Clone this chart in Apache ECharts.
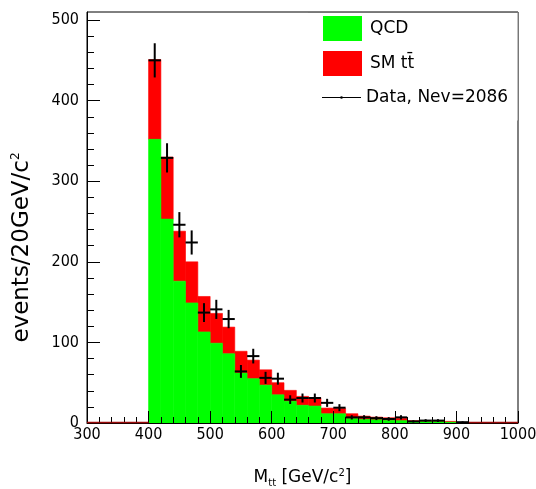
<!DOCTYPE html>
<html>
<head>
<meta charset="utf-8">
<script src="https://cdn.jsdelivr.net/npm/echarts@6/dist/echarts.min.js"></script>
<style>
  html, body { margin: 0; padding: 0; background: #fff; }
  #chart { width: 536px; height: 489px; }
</style>
</head>
<body>
<div id="chart"></div>
<script>
// 20 GeV bins, low edge of each bin
const binLow = [400, 420, 440, 460, 480, 500, 520, 540, 560, 580, 600, 620, 640,
  660, 680, 700, 720, 740, 760, 780, 800, 820, 840, 860, 880, 900]
const binWidth = 20
// QCD background (green)
const qcd = [352, 253, 176, 149, 113, 99, 86, 62, 55, 47, 35, 27, 22,
  21, 11.5, 11.5, 5.5, 4.5, 4, 3.2, 2.9, 1.2, 1.6, 1.5, 1, 0]
// SM ttbar, stacked on top of QCD (red)
const ttbar = [99, 77, 62, 51, 44, 37, 33, 27, 23, 19, 15, 13.5, 11,
  10.5, 7, 6.5, 6, 4, 3.3, 3.3, 2.9, 1.7, 0.9, 1.4, 1, 0.5]
// data counts
const dataCounts = [450, 329, 246, 224, 137, 141, 129, 64, 83, 56, 55, 29, 31,
  31, 25, 19, 7, 7, 6, 5, 7, 2, 3, 3, 0, 1]

const xTicks = [300, 400, 500, 600, 700, 800, 900, 1000]
const yTicks = [0, 100, 200, 300, 400, 500]
const yMinorTicks = [20, 40, 60, 80, 120, 140, 160, 180, 220, 240, 260, 280,
  320, 340, 360, 380, 420, 440, 460, 480]

const tickFont = "'Liberation Sans Narrow', 'DejaVu Sans Condensed', 'DejaVu Sans', sans-serif"
const textFont = "'DejaVu Sans', sans-serif"

const chart = echarts.init(document.getElementById('chart'))

// rows for the custom series: [low, high, bottom, top]
const qcdRows = binLow.map((x, i) => [x, x + binWidth, 0, qcd[i]])
const ttRows = binLow.map((x, i) => [x, x + binWidth, qcd[i], qcd[i] + ttbar[i]])
const dataRows = binLow.map((x, i) => [x, x + binWidth, dataCounts[i]])

// empty bins over the whole axis range: histogram outline sits on zero there
const emptyRows = []
for (let x = xTicks[0]; x < xTicks[xTicks.length - 1]; x += binWidth) {
  const i = binLow.indexOf(x)
  if (i < 0 || qcd[i] + ttbar[i] === 0) emptyRows.push([x, x + binWidth])
}

const barItem = (params, api) => {
  const p0 = api.coord([api.value(0), api.value(2)])
  const p1 = api.coord([api.value(1), api.value(3)])
  const color = api.visual('color')
  return {
    type: 'rect',
    shape: { x: p0[0], y: p1[1], width: p1[0] - p0[0], height: p0[1] - p1[1] },
    style: { fill: color, stroke: color, lineWidth: 0.6 }
  }
}

const crossItem = (params, api) => {
  const n = api.value(2)
  if (n <= 0) return null
  const err = Math.sqrt(n)
  const xc = (api.value(0) + api.value(1)) / 2
  const a = api.coord([api.value(0), n])
  const b = api.coord([api.value(1), n])
  const top = api.coord([xc, n + err])
  const bot = api.coord([xc, Math.max(n - err, 0)])
  const st = { stroke: '#000', lineWidth: 2 }
  return {
    type: 'group',
    children: [
      { type: 'line', shape: { x1: a[0], y1: a[1], x2: b[0], y2: b[1] }, style: st },
      { type: 'line', shape: { x1: top[0], y1: top[1], x2: bot[0], y2: bot[1] }, style: st }
    ]
  }
}

const zeroItem = (params, api) => {
  const a = api.coord([api.value(0), 0])
  const b = api.coord([api.value(1), 0])
  return {
    type: 'line',
    shape: { x1: a[0], y1: a[1] - 0.5, x2: b[0], y2: b[1] - 0.5 },
    style: { stroke: '#9a0a0a', lineWidth: 1.5 }
  }
}

const option = {
  animation: false,
  backgroundColor: '#fff',
  grid: {
    left: 87, right: 18, top: 12, bottom: 66,
    show: true, borderColor: '#000', borderWidth: 1,
    containLabel: false, outerBoundsMode: 'none'
  },
  xAxis: {
    type: 'value', min: 300, max: 1000, interval: 100,
    z: 5,
    axisLine: { onZero: false, lineStyle: { color: '#000', width: 1 } },
    axisTick: { inside: true, length: 12, lineStyle: { color: '#000' } },
    minorTick: { show: true, splitNumber: 5, length: 6, lineStyle: { color: '#000' } },
    splitLine: { show: false },
    axisLabel: {
      margin: 4, fontSize: 16, fontFamily: tickFont, color: '#000',
      formatter: v => String(v)
    },
    name: 'M{sub|tt} [GeV/c{sup|2}]',
    nameLocation: 'middle',
    nameGap: 45,
    nameTextStyle: {
      fontSize: 17, fontFamily: textFont, color: '#000',
      rich: {
        sub: { fontSize: 10, fontFamily: textFont, color: '#000', padding: [10, 0, 0, 0] },
        sup: { fontSize: 10, fontFamily: textFont, color: '#000', padding: [0, 0, 10, 0] }
      }
    }
  },
  yAxis: [
    {
      type: 'value', min: 0, max: 510,
      z: 5,
      axisLine: { show: true, lineStyle: { color: '#000', width: 1 } },
      axisTick: { inside: true, length: 13, customValues: yTicks, lineStyle: { color: '#000' } },
      splitLine: { show: false },
      axisLabel: {
        customValues: yTicks, margin: 8, fontSize: 16, fontFamily: tickFont, color: '#000',
        formatter: v => String(v)
      },
      name: 'events/20GeV/c{sup|2}',
      nameLocation: 'middle',
      nameGap: 53,
      nameTextStyle: {
        fontSize: 23, fontFamily: textFont, color: '#000', padding: [0, 60, 0, 0],
        rich: {
          sup: { fontSize: 12, fontFamily: textFont, color: '#000', padding: [0, 0, 12, 0] }
        }
      }
    },
    {
      type: 'value', min: 0, max: 510, position: 'left',
      z: 5,
      axisLine: { show: false },
      axisTick: { inside: true, length: 7, customValues: yMinorTicks, lineStyle: { color: '#000' } },
      axisLabel: { show: false },
      splitLine: { show: false }
    }
  ],
  series: [
    {
      name: 'SM tt',
      type: 'custom',
      renderItem: barItem,
      itemStyle: { color: '#ff0000' },
      encode: { x: [0, 1], y: [2, 3] },
      data: ttRows,
      z: 2
    },
    {
      name: 'QCD',
      type: 'custom',
      renderItem: barItem,
      itemStyle: { color: '#00ff00' },
      encode: { x: [0, 1], y: [2, 3] },
      data: qcdRows,
      z: 3
    },
    {
      name: 'outline',
      type: 'custom',
      renderItem: zeroItem,
      encode: { x: [0, 1] },
      data: emptyRows,
      z: 6
    },
    {
      name: 'Data',
      type: 'custom',
      renderItem: crossItem,
      encode: { x: [0, 1], y: 2 },
      data: dataRows,
      z: 7
    }
  ],
  graphic: [
    { type: 'rect', shape: { x: 308, y: 12.5, width: 209.5, height: 108 }, style: { fill: '#fff' }, z: 10 },
    { type: 'polyline', shape: { points: [[308, 12.5], [518.5, 12.5], [518.5, 121]] }, style: { stroke: '#777', lineWidth: 1, fill: null }, z: 11 },
    { type: 'rect', shape: { x: 323, y: 16, width: 39, height: 25 }, style: { fill: '#00ff00' }, z: 11 },
    { type: 'rect', shape: { x: 323, y: 51, width: 39, height: 25 }, style: { fill: '#ff0000' }, z: 11 },
    { type: 'line', shape: { x1: 322, y1: 97.5, x2: 361, y2: 97.5 }, style: { stroke: '#000', lineWidth: 1 }, z: 11 },
    { type: 'circle', shape: { cx: 341.5, cy: 97.5, r: 1.3 }, style: { fill: '#000' }, z: 11 },
    { type: 'text', x: 370, y: 28.5, style: { text: 'QCD', font: "17px 'DejaVu Sans'", fill: '#000', verticalAlign: 'middle' }, z: 11 },
    { type: 'text', x: 370, y: 63.5, style: { text: 'SM t' + 't\u0304', font: "17px 'DejaVu Sans'", fill: '#000', verticalAlign: 'middle' }, z: 11 },
    { type: 'text', x: 366, y: 97.5, style: { text: 'Data, Nev=2086', font: "17px 'DejaVu Sans'", fill: '#000', verticalAlign: 'middle' }, z: 11 }
  ]
}

chart.setOption(option)
</script>
</body>
</html>
